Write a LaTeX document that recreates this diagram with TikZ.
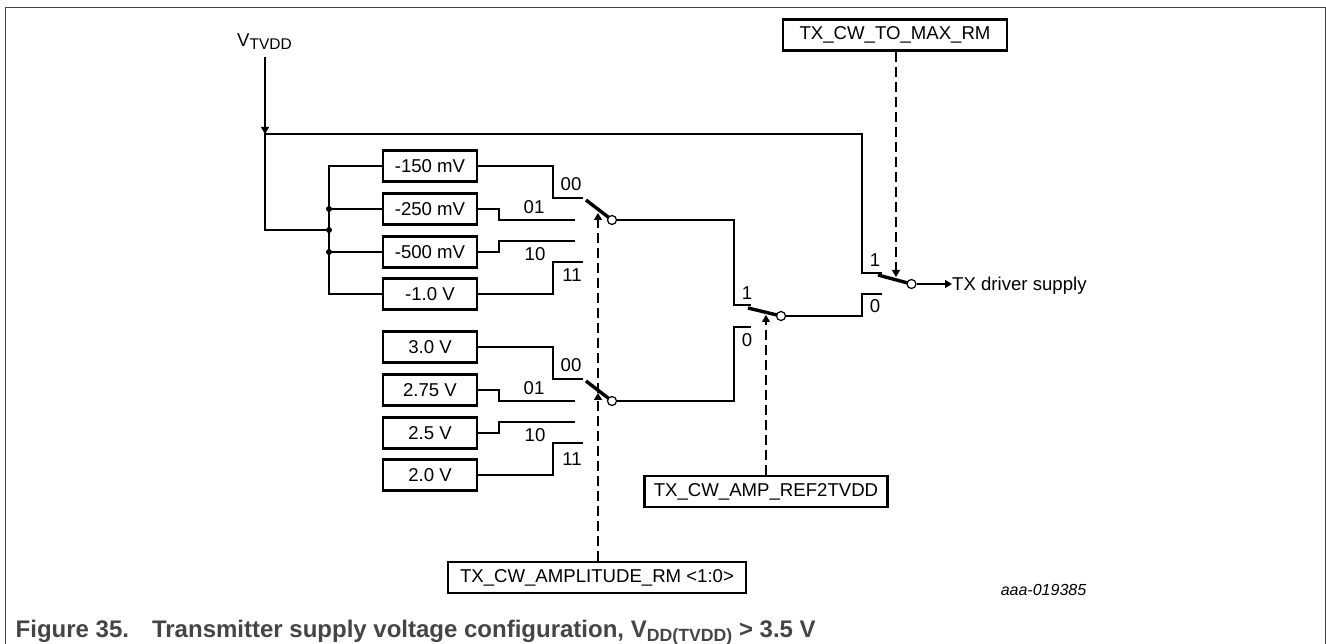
\documentclass[tikz,border=0pt]{standalone}
\usepackage{fontspec}
\setmainfont{Liberation Sans}
\usepackage{tikz}
\usetikzlibrary{positioning, arrows.meta}
\definecolor{capgray}{HTML}{454545}

\begin{document}
\begin{tikzpicture}[
  x=1pt, y=-1pt,
  box/.style={rectangle, draw, line width=2.5pt, align=center, minimum width=94pt, minimum height=31pt, inner sep=0pt, font=\fontsize{18.6}{21}\selectfont},
  regbox/.style={box},
  lbl/.style={inner sep=0pt, font=\fontsize{18.6}{21}\selectfont},
  wire/.style={line width=1.2pt},
  arr/.style={wire, -{Triangle[length=7pt, width=8pt]}},
  ctl/.style={wire, dash pattern=on 10pt off 5pt, -{Triangle[length=7pt, width=8pt]}},
  blade/.style={line width=3.4pt},
  pivot/.style={circle, draw, line width=1.2pt, fill=white, minimum size=9pt, inner sep=0pt},
  jn/.style={circle, fill=black, minimum size=6pt, inner sep=0pt}
]
\useasboundingbox (0,0) rectangle (1326,644);
\draw[line width=1pt, draw=capgray] (5.5,644) |- (1325,7.5) -- (1325,644);

% supply
\node[lbl] (vtvdd) at (264.5,41.5) {V\raisebox{-0.35ex}{\fontsize{15.5}{18}\selectfont TVDD}};
\coordinate (vtop) at (265,57);
\coordinate (vsplit) at (265,134);
\coordinate (vbus) at (265,230);

% negative offsets
\node[box] (m150) at (430,166) {-150 mV};
\node[box] (m250) at (430,209) {-250 mV};
\node[box] (m500) at (430,252) {-500 mV};
\node[box] (m100) at (430,294) {-1.0 V};
% fixed levels
\node[box] (v30) at (430,347) {3.0 V};
\node[box] (v275) at (430,390) {2.75 V};
\node[box] (v25) at (430,433) {2.5 V};
\node[box] (v20) at (430,475) {2.0 V};
% registers
\node[regbox, minimum width=224pt] (tomax) at (895,35) {TX\_CW\_TO\_MAX\_RM};
\node[regbox, minimum width=243pt] (ampref) at (766,491.5) {TX\_CW\_AMP\_REF2TVDD};
\node[regbox, minimum width=298pt] (ampl) at (597,577.5) {TX\_CW\_AMPLITUDE\_RM <1:0>};

% switches
\coordinate (swatop) at (586,200);
\coordinate (swbtop) at (586,381);
\coordinate (swctop) at (748,308);
\coordinate (swdtop) at (878,275);
\draw[blade] (swatop) -- (612,220);
\draw[blade] (swbtop) -- (612,401);
\draw[blade] (swctop) -- (781,316);
\draw[blade] (swdtop) -- (911.5,284);
\node[pivot] (swa) at (612,220) {};
\node[pivot] (swb) at (612,401) {};
\node[pivot] (swc) at (781,316) {};
\node[pivot] (swd) at (911.5,284) {};

% junctions
\coordinate (busm150) at (329,166);
\coordinate (busm100) at (329,294);
\node[jn] (j250) at (329,209) {};
\node[jn] (jmid) at (329,230) {};
\node[jn] (j500) at (329,252) {};

% wiring from the supply
\draw[wire] (vtop) -- (vbus) -- (jmid);
\draw[arr] (vtop) -- (vsplit);
\draw[wire] (vsplit) -- (862,134) -- (862,273) -- (882,273);
\draw[wire] (m150.west) -- (busm150) -- (busm100) -- (m100.west);
\draw[wire] (j250) -- (m250.west);
\draw[wire] (j500) -- (m500.west);

% upper contacts
\draw[wire] (m150.east) -- (553,166) -- (553,198) -- (583,198);
\draw[wire] (m250.east) -- (499,209) -- (499,220) -- (575,220);
\draw[wire] (m500.east) -- (499,252) -- (499,241) -- (575,241);
\draw[wire] (m100.east) -- (553,294) -- (553,262) -- (583,262);
% lower contacts
\draw[wire] (v30.east) -- (553,347) -- (553,379) -- (583,379);
\draw[wire] (v275.east) -- (499,390) -- (499,401) -- (575,401);
\draw[wire] (v25.east) -- (499,433) -- (499,422) -- (575,422);
\draw[wire] (v20.east) -- (553,475) -- (553,443) -- (583,443);
% outputs
\draw[wire] (swa) -- (734,220) -- (734,305) -- (751,305);
\draw[wire] (swb) -- (734,401) -- (734,327) -- (751,327);
\draw[wire] (swc) -- (862,316) -- (862,294) -- (882,294);
\node[lbl, anchor=west] (txout) at (952,286) {TX driver supply};
\draw[arr] (swd) -- (swd -| txout.west);

% control lines
\coordinate (ctlb) at (598,393);
\coordinate (ctla) at (598,213);
\draw[ctl] (ampl.north -| ctlb) -- (ctlb);
\draw[ctl] (ctlb) -- (ctla);
\coordinate (ctlc) at (766,315);
\coordinate (ctld) at (896,277);
\draw[ctl] (ampref.north -| ctlc) -- (ctlc);
\draw[ctl] (tomax.south -| ctld) -- (ctld);

% contact labels
\node[lbl] (a00) at (571,184) {00};
\node[lbl] (a01) at (534,207) {01};
\node[lbl] (a10) at (535,254) {10};
\node[lbl] (a11) at (572,275) {11};
\node[lbl] (b00) at (571,365) {00};
\node[lbl] (b01) at (534,388) {01};
\node[lbl] (b10) at (535,435) {10};
\node[lbl] (b11) at (572,459) {11};
\node[lbl] (c1) at (747,293) {1};
\node[lbl] (c0) at (747,340) {0};
\node[lbl] (d1) at (875,260) {1};
\node[lbl] (d0) at (875,306) {0};

\node[inner sep=0pt, font=\fontsize{16}{18}\itshape] (tag) at (1043.5,590) {aaa-019385};
\node[anchor=base west, inner sep=0pt, text=capgray, font=\fontsize{24}{27}\bfseries] (caption) at (15.5,637.5) {Figure 35.\hspace{23pt}Transmitter supply voltage configuration, V\raisebox{-0.3ex}{\fontsize{17.7}{20}\selectfont DD(TVDD)} > 3.5 V};
\end{tikzpicture}
\end{document}
